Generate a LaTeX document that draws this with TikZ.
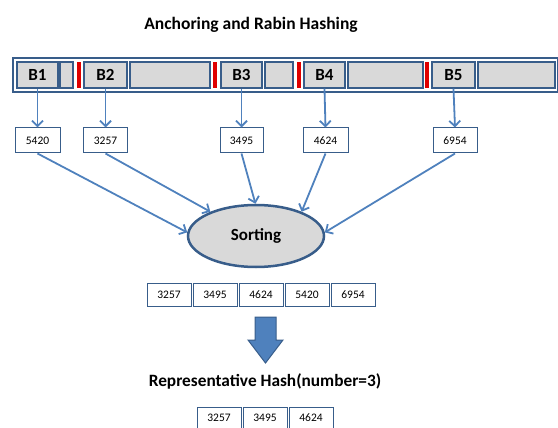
\documentclass[tikz,border=0pt]{standalone}
\usepackage{fontspec}
\setmainfont{Carlito}
\usetikzlibrary{arrows.meta,shapes.geometric}
\definecolor{arrowblue}{HTML}{4F81BD}
\definecolor{darkblue}{HTML}{385D8A}
\definecolor{cellgray}{HTML}{D9D9D9}
\definecolor{redbar}{HTML}{E00000}
\begin{document}
\begin{tikzpicture}[x=1pt,y=-1pt,
  cellbox/.style={draw=darkblue, line width=1.3pt, fill=cellgray, minimum height=26, inner sep=0, font=\bfseries\fontsize{17}{17}\selectfont},
  redmark/.style={fill=redbar, minimum width=4, minimum height=26, inner sep=0},
  hashbox/.style={draw=darkblue, line width=1pt, fill=white, minimum height=25, inner sep=0, font=\fontsize{11.5}{11.5}\selectfont},
  sortbox/.style={draw=darkblue, line width=1pt, fill=white, minimum width=44, minimum height=23, inner sep=0, font=\fontsize{11.5}{11.5}\selectfont},
  conn/.style={draw=arrowblue, line width=1.8pt, -{Straight Barb[length=5.5pt,width=11pt]}}
]
\useasboundingbox (0,0) rectangle (558,428);
\node[font=\bfseries\fontsize{17.5}{18}\selectfont] (title) at (251,25) {Anchoring and Rabin Hashing};
\node[draw=darkblue, line width=2.5pt, fill=white, minimum width=545, minimum height=34, inner sep=0] (bar) at (285.5,75) {};
\node[cellbox, minimum width=41] (b1) at (37.5,75) {B1};
\node[cellbox, minimum width=13] (g1) at (66.5,75) {};
\node[redmark] (r1) at (78.5,75) {};
\node[cellbox, minimum width=43] (b2) at (105.5,75) {B2};
\node[cellbox, minimum width=80] (g2) at (170,75) {};
\node[redmark] (r2) at (215,75) {};
\node[cellbox, minimum width=41] (b3) at (241.5,75) {B3};
\node[cellbox, minimum width=28] (g3) at (279,75) {};
\node[redmark] (r3) at (298.5,75) {};
\node[cellbox, minimum width=41] (b4) at (324.5,75) {B4};
\node[cellbox, minimum width=75] (g4) at (385.5,75) {};
\node[redmark] (r4) at (427,75) {};
\node[cellbox, minimum width=43] (b5) at (453.5,75) {B5};
\node[cellbox, minimum width=77] (g5) at (516.5,75) {};

\node[hashbox, minimum width=45] (h1) at (37.5,140.5) {5420};
\node[hashbox, minimum width=44] (h2) at (105.5,140.5) {3257};
\node[hashbox, minimum width=43] (h3) at (241.5,140.5) {3495};
\node[hashbox, minimum width=45] (h4) at (325.5,140.5) {4624};
\node[hashbox, minimum width=44] (h5) at (455,140.5) {6954};

\draw[conn] (b1.south) -- (h1.north);
\draw[conn] (b2.south) -- (h2.north);
\draw[conn] (b3.south) -- (h3.north);
\draw[conn] (b4.south) -- (h4.north);
\draw[conn] (b5.south) -- (h5.north);

\node[ellipse, draw=darkblue, line width=2.5pt, fill=cellgray, minimum width=136, minimum height=62, inner sep=0, font=\bfseries\fontsize{17}{17}\selectfont] (s) at (256,236) {Sorting};

\draw[conn] (h1.south) -- (s.177);
\draw[conn] (h2.south) -- (s.152);
\draw[conn] (h3.south) -- (s.91);
\draw[conn] (h4.south) -- (s.28);
\draw[conn] (h5.south) -- (s.3);

\node[sortbox] (o1) at (169,294.5) {3257};
\node[sortbox] (o2) at (215,294.5) {3495};
\node[sortbox] (o3) at (261,294.5) {4624};
\node[sortbox] (o4) at (307,294.5) {5420};
\node[sortbox] (o5) at (353,294.5) {6954};

\draw[fill=arrowblue, draw=darkblue, line width=1pt] (255,317) -- (276,317) -- (276,340) -- (283,340) -- (265.5,363) -- (248,340) -- (255,340) -- cycle;

\node[font=\bfseries\fontsize{17.3}{17.3}\selectfont] (rep) at (265,381) {Representative Hash(number=3)};

\node[sortbox, minimum height=21] (f1) at (219,417.5) {3257};
\node[sortbox, minimum height=21] (f2) at (265,417.5) {3495};
\node[sortbox, minimum height=21] (f3) at (311,417.5) {4624};
\end{tikzpicture}
\end{document}
